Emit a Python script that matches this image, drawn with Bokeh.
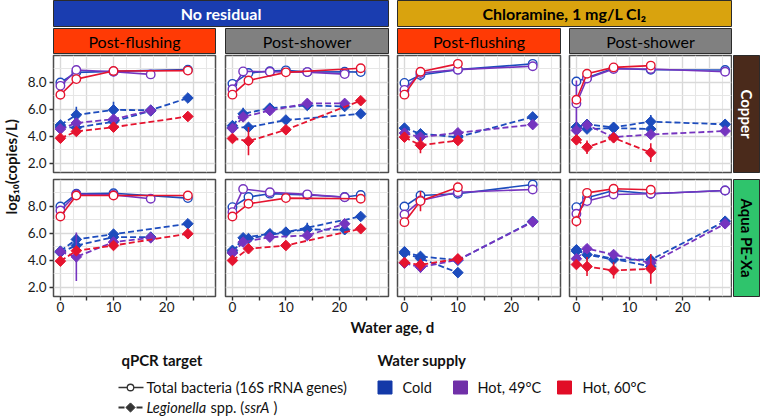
import math
from bokeh.plotting import figure
from bokeh.models import GridPlot, Range1d, FixedTicker, LinearAxis, PrintfTickFormatter
from bokeh.embed import file_html
from bokeh.resources import INLINE
from bokeh.core.properties import value

FONT = "Lato"

# ---------------- labels / categories ----------------
TOP_STRIPS = ["No residual", "Chloramine, 1 mg/L Cl\u2082"]
SUB_STRIPS = ["Post-flushing", "Post-shower"]
ROW_STRIPS = ["Copper", "Aqua PE-Xa"]
SUPPLY = ["Cold", "Hot, 49\u00b0C", "Hot, 60\u00b0C"]
X_TICKS = [0, 10, 20]
X_MINOR = [5, 15, 25]
Y_TICKS = [2, 4, 6, 8]

# ---------------- data: (days, log10 copies/L, +/- error) ----------------
cu_none_flush = {
    "tb_cold": ([0, 3, 10, 24], [8.00, 8.75, 8.82, 8.95], [0, 0, 0, 0]),
    "tb_h49": ([0, 3, 10, 17], [7.75, 8.92, 8.80, 8.60], [0, 0, 0, 0]),
    "tb_h60": ([0, 3, 10, 24], [7.09, 8.25, 8.85, 8.88], [0, 0, 0, 0]),
    "leg_cold": ([0, 3, 10, 17, 24], [4.85, 5.60, 5.97, 5.95, 6.85], [0, 0.6, 0.6, 0, 0]),
    "leg_cold2": ([0, 3, 10, 17], [4.70, 4.65, 5.10, 5.90], [0, 0, 0, 0]),
    "leg_h49": ([0, 3, 10, 17], [4.55, 5.00, 5.28, 5.92], [0, 0, 0.2, 0]),
    "leg_h60": ([0, 3, 10, 24], [3.87, 4.37, 4.69, 5.48], [0, 0, 0, 0]),
}
cu_none_shower = {
    "tb_cold": ([0, 3, 7, 10, 14, 21, 24], [7.90, 8.70, 8.84, 8.90, 8.77, 8.80, 8.77], [0] * 7),
    "tb_h49": ([0, 2, 7, 14, 21], [7.50, 8.82, 8.80, 8.77, 8.62], [0] * 5),
    "tb_h60": ([0, 3, 10, 24], [7.10, 8.15, 8.75, 9.05], [0] * 4),
    "leg_cold": ([0, 2, 7, 14, 21], [4.80, 5.68, 6.10, 6.30, 6.22], [0, 0.45, 0.3, 0, 0]),
    "leg_cold2": ([0, 3, 10, 24], [4.65, 4.68, 5.22, 5.68], [0] * 4),
    "leg_h49": ([0, 2, 7, 14, 21], [4.60, 5.45, 5.92, 6.45, 6.45], [0, 0.3, 0.3, 0, 0]),
    "leg_h60": ([0, 3, 10, 24], [3.85, 3.65, 4.50, 6.65], [0, 1.05, 0, 0]),
}
cu_cl_flush = {
    "tb_cold": ([0, 3, 10, 24], [7.97, 8.55, 8.95, 9.38], [0, 0.4, 0.3, 0]),
    "tb_h49": ([0, 3, 10, 24], [7.45, 8.70, 8.95, 9.20], [0] * 4),
    "tb_h60": ([0, 3, 10], [7.10, 8.80, 9.38], [0] * 3),
    "leg_cold": ([0, 3, 10, 24], [4.62, 4.20, 3.95, 5.45], [0, 0, 0.3, 0]),
    "leg_h49": ([0, 3, 10, 24], [4.25, 3.95, 4.27, 4.88], [0] * 4),
    "leg_h60": ([0, 3, 10], [3.95, 3.35, 3.70], [0, 0.6, 0.3]),
}
cu_cl_shower = {
    "tb_cold": ([0, 2, 7, 14, 28], [8.07, 8.35, 9.05, 8.94, 8.92], [0, 0.3, 0, 0, 0]),
    "tb_h49": ([0, 2, 7, 14, 28], [6.45, 8.30, 9.00, 9.00, 8.80], [1.7, 0, 0, 0, 0]),
    "tb_h60": ([0, 2, 7, 14], [6.72, 8.65, 9.12, 9.25], [0] * 4),
    "leg_cold": ([0, 2, 7, 14, 28], [4.70, 4.90, 4.68, 5.10, 4.90], [0, 0, 0, 0.5, 0]),
    "leg_cold2": ([0, 2, 7, 14], [4.68, 4.55, 4.62, 4.55], [0] * 4),
    "leg_h49": ([0, 2, 7, 14, 28], [4.45, 4.85, 3.95, 4.15, 4.40], [0] * 5),
    "leg_h60": ([0, 2, 7, 14], [3.75, 3.20, 3.90, 2.80], [0, 0.5, 0.35, 0.7]),
}
aq_none_flush = {
    "tb_cold": ([0, 3, 10, 24], [8.00, 8.94, 8.98, 8.62], [0] * 4),
    "tb_h49": ([0, 3, 10, 17], [7.70, 8.90, 8.86, 8.57], [0] * 4),
    "tb_h60": ([0, 3, 10, 24], [7.26, 8.81, 8.81, 8.81], [0] * 4),
    "leg_cold": ([0, 3, 10, 24], [4.69, 5.56, 5.95, 6.72], [0, 0.4, 0.3, 0]),
    "leg_cold2": ([0, 3, 10, 17], [4.60, 5.11, 5.73, 5.73], [0] * 4),
    "leg_h49": ([0, 3, 10, 17], [4.65, 4.27, 5.36, 5.68], [0, 1.8, 0, 0]),
    "leg_h60": ([0, 3, 10, 24], [3.95, 4.72, 5.11, 5.98], [0] * 4),
}
aq_none_shower = {
    "tb_cold": ([0, 3, 7, 14, 21, 24], [7.95, 8.70, 8.95, 8.85, 8.70, 8.85], [0, 0, 0, 0.2, 0, 0]),
    "tb_h49": ([0, 2, 7, 14, 21], [7.58, 9.30, 9.06, 8.90, 8.69], [0] * 5),
    "tb_h60": ([0, 3, 10, 24], [7.26, 8.20, 8.62, 8.57], [0] * 4),
    "leg_cold": ([0, 3, 10, 24], [4.75, 5.62, 6.10, 7.26], [0] * 4),
    "leg_cold2": ([0, 2, 7, 14, 21], [4.62, 5.68, 5.98, 6.30, 6.28], [0, 0, 0.3, 0.5, 0]),
    "leg_h49": ([0, 2, 7, 14, 21], [4.55, 5.36, 5.73, 5.85, 6.72], [0, 0, 0.3, 0, 0]),
    "leg_h60": ([0, 3, 10, 24], [4.00, 4.87, 5.11, 6.35], [0] * 4),
}
aq_cl_flush = {
    "tb_cold": ([0, 3, 10, 24], [8.00, 8.81, 8.94, 9.63], [0] * 4),
    "tb_h49": ([0, 3, 10, 24], [7.41, 8.44, 9.06, 9.26], [0] * 4),
    "tb_h60": ([0, 3, 10], [6.84, 8.40, 9.43], [0, 0.75, 0]),
    "leg_cold": ([0, 3, 10, 24], [4.65, 4.30, 4.02, 6.90], [0] * 4),
    "leg_cold2": ([0, 3, 10], [4.55, 4.15, 3.10], [0, 0, 0.3]),
    "leg_h49": ([0, 3, 10, 24], [3.80, 3.50, 4.05, 6.85], [0, 0.4, 0, 0]),
    "leg_h60": ([0, 3, 10], [3.85, 3.68, 4.12], [0, 0.45, 0]),
}
aq_cl_shower = {
    "tb_cold": ([0, 2, 7, 14, 28], [7.95, 8.64, 9.19, 8.94, 9.19], [0, 0.3, 0, 0.3, 0]),
    "tb_h49": ([0, 2, 7, 14, 28], [7.46, 8.40, 8.89, 8.94, 9.19], [0, 0.3, 0, 0, 0]),
    "tb_h60": ([0, 2, 7, 14], [6.91, 9.01, 9.31, 9.24], [0.4, 0, 0, 0]),
    "leg_cold": ([0, 2, 7, 14, 28], [4.79, 4.42, 4.07, 4.05, 6.91], [0] * 5),
    "leg_cold2": ([0, 14], [4.69, 3.55], [0, 0]),
    "leg_h49": ([0, 2, 7, 14, 28], [4.13, 4.87, 4.44, 3.80, 6.72], [0, 0.3, 0, 0, 0]),
    "leg_h60": ([0, 2, 7, 14], [3.70, 3.55, 3.26, 3.38], [0, 0.7, 0.6, 1.1]),
}

PANELS = [
    [cu_none_flush, cu_none_shower, cu_cl_flush, cu_cl_shower],
    [aq_none_flush, aq_none_shower, aq_cl_flush, aq_cl_shower],
]

# ---------------- styling ----------------
SUPPLY_COLORS = ["#1d4cbd", "#7534bf", "#e5142f"]
SWATCH_COLORS = ["#1339a8", "#7030a8", "#e10d27"]
SUPPLY_OF = {"cold": 0, "cold2": 0, "h49": 1, "h60": 2}
TOP_FILL = ["#1a3db0", "#d9a30e"]
TOP_TEXT = ["white", "black"]
SUB_FILL = ["#ff3a05", "#808080"]
ROW_FILL = ["#4a2a1b", "#2fc46c"]
ROW_TEXT = ["white", "black"]
GRID_C = "#d9d9d9"
GRID_MINOR_C = "#e6e6e6"
FRAME_C = "#4d4d4d"
TICK_C = "#333333"

XR = (-1.3, 29.2)
YR = (1.33, 10.0)

# column geometry: (min_border_left, frame width, min_border_right)
COLS = [(31, 162, 5), (5, 163, 5), (4, 163, 5), (4, 162, 1)]
# row geometry for panels: (min_border_top, frame height, min_border_bottom)
ROWG = [(1, 117, 6), (1, 117, 20)]


def base_fig(width, height, bl, br, bt, bb, xr, yr, **kw):
    p = figure(width=width, height=height, x_range=Range1d(*xr), y_range=Range1d(*yr),
               output_backend="svg", toolbar_location=None,
               x_axis_location=None, y_axis_location=None,
               min_border_left=bl, min_border_right=br,
               min_border_top=bt, min_border_bottom=bb, **kw)
    p.grid.visible = False
    return p


def draw_series(p, data):
    for key in ("cold", "cold2", "h49", "h60"):
        col = SUPPLY_COLORS[SUPPLY_OF[key]]
        for target in ("leg", "tb"):
            k = f"{target}_{key}"
            if k not in data:
                continue
            days, vals, errs = data[k]
            ex = [d for d, e in zip(days, errs) if e > 0]
            lo = [v - e for v, e in zip(vals, errs) if e > 0]
            hi = [v + e for v, e in zip(vals, errs) if e > 0]
            if ex:
                p.segment(x0=ex, y0=lo, x1=ex, y1=hi, line_color=col, line_width=1.6)
            if target == "tb":
                p.line(days, vals, line_color=col, line_width=1.6)
                p.scatter(days, vals, marker="circle", size=8.5, fill_color="white",
                          line_color=col, line_width=1.4)
            else:
                p.line(days, vals, line_color=col, line_width=1.8, line_dash="6 3")
                p.scatter(days, vals, marker="square", angle=math.pi / 4, size=7.5,
                          fill_color=col, line_color=col, line_width=1)


def panel(r, c):
    bl, fw, br = COLS[c]
    bt, fh, bb = ROWG[r]
    p = base_fig(bl + fw + br, bt + fh + bb, bl, br, bt, bb, XR, YR,
                 outline_line_color=FRAME_C, outline_line_width=1.5)
    p.xgrid.ticker = FixedTicker(ticks=[0, 5, 10, 15, 20, 25],
                                 minor_ticks=[2.5, 7.5, 12.5, 17.5, 22.5, 27.5])
    p.ygrid.ticker = FixedTicker(ticks=Y_TICKS, minor_ticks=[1, 3, 5, 7, 9])
    p.grid.visible = True
    p.grid.grid_line_color = GRID_C
    p.grid.grid_line_width = 1.4
    p.grid.minor_grid_line_color = GRID_MINOR_C
    p.grid.minor_grid_line_width = 1.1
    if c == 0:
        ya = LinearAxis(ticker=FixedTicker(ticks=Y_TICKS, minor_ticks=[]),
                        formatter=PrintfTickFormatter(format="%.1f"))
        ya.axis_line_color = None
        ya.major_tick_out = 4
        ya.major_tick_in = 0
        ya.major_tick_line_color = TICK_C
        ya.major_tick_line_width = 1.4
        ya.minor_tick_line_color = None
        ya.major_label_standoff = 3
        ya.major_label_text_font = FONT
        ya.major_label_text_font_size = "13.5px"
        ya.major_label_text_color = "#1a1a1a"
        p.add_layout(ya, "left")
    if r == 1:
        xa = LinearAxis(ticker=FixedTicker(ticks=X_TICKS, minor_ticks=X_MINOR))
        xa.axis_line_color = None
        xa.major_tick_out = 4
        xa.major_tick_in = 0
        xa.minor_tick_out = 4
        xa.minor_tick_in = 0
        xa.major_tick_line_color = TICK_C
        xa.minor_tick_line_color = TICK_C
        xa.major_tick_line_width = 1.4
        xa.minor_tick_line_width = 1.4
        xa.major_label_standoff = 1
        xa.major_label_text_font = FONT
        xa.major_label_text_font_size = "13.5px"
        xa.major_label_text_color = "#1a1a1a"
        p.add_layout(xa, "below")
    draw_series(p, PANELS[r][c])
    return p


def strip(width, height, bl, br, bt, bb, fill, label, color, bold, size, angle=0.0):
    p = base_fig(width, height, bl, br, bt, bb, (0, 1), (0, 1),
                 background_fill_color=fill, outline_line_color="#2b2b2b",
                 outline_line_width=1)
    p.text(x=[0.5], y=[0.5], text=[label], angle=angle, text_align="center",
           text_baseline="middle", text_font=value(FONT), text_font_size=size,
           text_font_style="bold" if bold else "normal", text_color=color)
    return p


children = []

# top strips (row 0)
w12 = sum(sum(c) for c in COLS[0:2])
w34 = sum(sum(c) for c in COLS[2:4])
children.append((strip(w12, 28, COLS[0][0], COLS[1][2], 0, 2, TOP_FILL[0], TOP_STRIPS[0],
                       TOP_TEXT[0], True, "16px"), 0, 1, 1, 2))
children.append((strip(w34, 28, COLS[2][0], COLS[3][2], 0, 2, TOP_FILL[1], TOP_STRIPS[1],
                       TOP_TEXT[1], True, "16px"), 0, 3, 1, 2))

# sub strips (row 1)
for c in range(4):
    bl, fw, br = COLS[c]
    children.append((strip(bl + fw + br, 26, bl, br, 0, 0, SUB_FILL[c % 2], SUB_STRIPS[c % 2],
                           "black", False, "16px"), 1, c + 1))

# panels + row strips
for r in range(2):
    bt, fh, bb = ROWG[r]
    for c in range(4):
        children.append((panel(r, c), r + 2, c + 1))
    children.append((strip(28, bt + fh + bb, 1, 0, bt, bb, ROW_FILL[r], ROW_STRIPS[r],
                           ROW_TEXT[r], True, "15px", angle=-math.pi / 2), r + 2, 5))

# y axis title
h_panels = sum(sum(g) for g in ROWG)
top_y = 28 + 26
yt = base_fig(22, h_panels, 0, 0, 0, 0, (0, 22), (top_y + h_panels, top_y),
              outline_line_color=None)
yt.text(x=[10], y=[175], text=["log\u2081\u2080(copies/L)"], angle=math.pi / 2,
        text_align="center", text_baseline="middle", text_font=value(FONT),
        text_font_size="15px", text_font_style="bold", text_color="#111111")
children.append((yt, 2, 0, 2, 1))

# bottom: x title + legends
bot_top = top_y + h_panels
bot = base_fig(760, 419 - bot_top, 0, 0, 0, 0, (0, 760), (419, bot_top), outline_line_color=None)


def btext(x, y, s, size="14.5px", style="normal", align="left"):
    bot.text(x=[x], y=[y], text=[s], text_align=align, text_baseline="middle",
             text_font=value(FONT), text_font_size=size, text_font_style=style,
             text_color="#111111")


btext(392, 326, "Water age, d", "15px", "bold", "center")
btext(121, 359, "qPCR target", "15px", "bold")
btext(377, 359, "Water supply", "15px", "bold")

# qPCR target legend
bot.segment(x0=[118], y0=[387], x1=[143], y1=[387], line_color="#333333", line_width=1.5)
bot.scatter([130], [387], marker="circle", size=6.5, fill_color="white", line_color="#333333",
            line_width=1.3)
btext(146, 387, "Total bacteria (16S rRNA genes)")
bot.segment(x0=[118], y0=[407], x1=[143], y1=[407], line_color="#333333", line_width=1.8,
            line_dash="6 3")
bot.scatter([130], [407], marker="square", angle=math.pi / 4, size=6.5, fill_color="#333333",
            line_color="#333333")
btext(146, 407, "Legionella", style="italic")
btext(210, 407, "spp. (")
btext(244, 407, "ssrA", style="italic")
btext(273, 407, ")")

# water supply legend
sw_x = [384.5, 460, 564]
tx_x = [402, 477, 582]
bot.rect(x=sw_x, y=[387] * 3, width=14, height=13, fill_color=SWATCH_COLORS,
         line_color=SWATCH_COLORS)
for x, s in zip(tx_x, SUPPLY):
    btext(x, 387, s)
children.append((bot, 4, 0, 1, 6))

grid = GridPlot(children=children, toolbar_location=None, spacing=0)

open("out.html", "w").write(file_html(grid, INLINE))
